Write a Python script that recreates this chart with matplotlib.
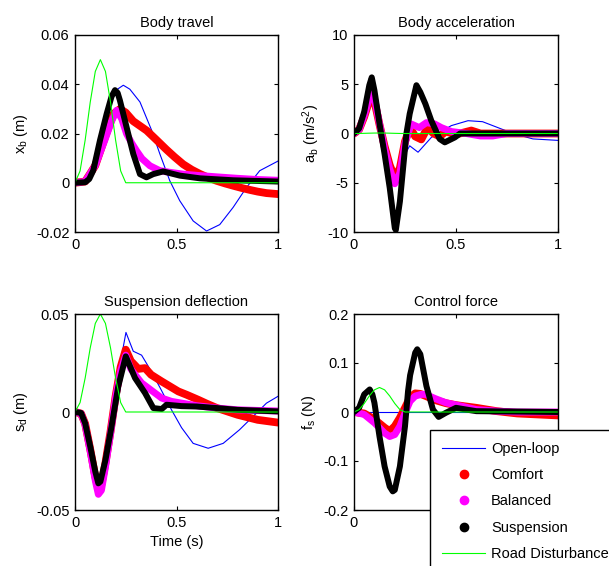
import matplotlib
matplotlib.use('Agg')
import matplotlib.pyplot as plt
from matplotlib.lines import Line2D

plt.rcParams['font.family'] = ['Liberation Sans', 'DejaVu Sans']
plt.rcParams['mathtext.fontset'] = 'custom'
plt.rcParams['mathtext.rm'] = 'Liberation Sans'
plt.rcParams['mathtext.it'] = 'Liberation Sans:italic'
plt.rcParams['axes.unicode_minus'] = False

# 路面扰动 (same in every panel)
t_road = [0, 0.025, 0.05, 0.075, 0.1, 0.125, 0.15, 0.175, 0.2, 0.225, 0.25, 1.0]
road = [0, 0.0048, 0.0173, 0.0327, 0.0452, 0.05, 0.0452, 0.0327, 0.0173, 0.0048, 0, 0]

# Body travel
t_xb_open = [0, 0.05, 0.1, 0.15, 0.19, 0.213, 0.238, 0.27, 0.32, 0.378, 0.418, 0.467, 0.516,
             0.582, 0.648, 0.713, 0.779, 0.844, 0.91, 1.0]
xb_open = [0, 0.001, 0.01, 0.026, 0.036, 0.0382, 0.0396, 0.038, 0.0328, 0.0212, 0.0117, 0.0008,
           -0.0073, -0.0155, -0.0196, -0.017, -0.01, -0.002, 0.0049, 0.0088]
t_xb_comf = [0, 0.05, 0.1, 0.15, 0.19, 0.222, 0.25, 0.287, 0.353, 0.4, 0.45, 0.49, 0.533, 0.575,
             0.615, 0.656, 0.697, 0.74, 0.779, 0.82, 0.861, 0.9, 0.943, 1.0]
xb_comf = [0, 0.0005, 0.007, 0.019, 0.028, 0.030, 0.0285, 0.025, 0.0212, 0.0175, 0.0135, 0.0105,
           0.0075, 0.0053, 0.0036, 0.0021, 0.0008, -0.0003, -0.0012, -0.0021, -0.0029, -0.0036,
           -0.0042, -0.0046]
t_xb_bal = [0, 0.05, 0.1, 0.15, 0.18, 0.205, 0.23, 0.254, 0.28, 0.303, 0.33, 0.369, 0.418, 0.47,
            0.533, 0.6, 0.697, 0.8, 0.9, 1.0]
xb_bal = [0, 0.0005, 0.007, 0.018, 0.025, 0.0294, 0.026, 0.0199, 0.016, 0.013, 0.0098, 0.0069,
          0.0049, 0.0042, 0.0035, 0.003, 0.0024, 0.0018, 0.0013, 0.001]
t_xb_susp = [0, 0.05, 0.07, 0.09, 0.123, 0.156, 0.18, 0.197, 0.21, 0.221, 0.254, 0.287, 0.32,
             0.352, 0.385, 0.434, 0.516, 0.615, 0.78, 1.0]
xb_susp = [0, 0.0002, 0.0015, 0.005, 0.0172, 0.028, 0.035, 0.0376, 0.0365, 0.0335, 0.0226,
           0.0117, 0.0035, 0.0022, 0.0035, 0.0046, 0.0029, 0.0018, 0.001, 0.0005]

# Body acceleration
t_ab_open = [0, 0.04, 0.085, 0.14, 0.2, 0.24, 0.273, 0.314, 0.379, 0.477, 0.559, 0.63, 0.68,
             0.78, 0.877, 1.0]
ab_open = [0, 1.5, 4.3, -1.0, -5.0, -2.5, -1.25, -1.9, -0.4, 0.8, 1.3, 1.2, 0.8, 0, -0.55, -0.7]
t_ab_comf = [0, 0.025, 0.05, 0.085, 0.1, 0.125, 0.15, 0.175, 0.2, 0.225, 0.25, 0.275, 0.3, 0.33,
             0.36, 0.39, 0.42, 0.45, 0.5, 0.575, 0.62, 0.7, 1.0]
ab_comf = [0, 0.4, 1.7, 4.0, 3.3, 0.9, -1.3, -3.2, -4.5, -3.5, -0.8, 0.6, -0.3, -0.6, 0.6, 0.0,
           -0.3, 0.2, -0.1, 0.3, 0.0, 0, 0]
t_ab_bal = [0, 0.025, 0.05, 0.085, 0.1, 0.125, 0.15, 0.175, 0.2, 0.225, 0.25, 0.28, 0.32, 0.355,
            0.395, 0.428, 0.477, 0.55, 0.62, 0.68, 0.75, 0.8, 1.0]
ab_bal = [0, 0.4, 1.8, 4.3, 3.6, 1.0, -1.5, -3.6, -5.1, -4.0, -1.0, 0.97, 0.6, 1.1, 0.97, 0.6,
          0.2, 0, -0.25, -0.25, 0, 0, 0]
t_ab_susp = [0, 0.025, 0.05, 0.075, 0.087, 0.1, 0.125, 0.15, 0.175, 0.2, 0.205, 0.225, 0.257,
             0.273, 0.306, 0.325, 0.35, 0.379, 0.42, 0.445, 0.494, 0.52, 1.0]
ab_susp = [0, 0.5, 2.2, 4.9, 5.7, 4.4, 1.0, -2.1, -5.5, -9.6, -9.8, -6.9, 0.0, 2.0, 4.9, 4.2,
           3.0, 1.3, -0.56, -0.9, -0.4, 0, 0]

# Suspension deflection
t_sd_open = [0, 0.05, 0.1, 0.115, 0.15, 0.2, 0.225, 0.251, 0.287, 0.328, 0.361, 0.419, 0.476,
             0.525, 0.582, 0.656, 0.73, 0.81, 0.877, 0.943, 1.0]
sd_open = [0, -0.006, -0.03, -0.035, -0.024, 0.009, 0.026, 0.0406, 0.031, 0.029, 0.0233, 0.0124,
           0.001, -0.008, -0.016, -0.0185, -0.016, -0.0091, -0.0023, 0.0045, 0.008]
t_sd_comf = [0, 0.03, 0.05, 0.075, 0.1, 0.115, 0.13, 0.15, 0.175, 0.2, 0.225, 0.25, 0.275, 0.312,
             0.345, 0.375, 0.427, 0.509, 0.55, 0.608, 0.65, 0.7, 0.8, 0.9, 1.0]
sd_comf = [0, -0.0008, -0.006, -0.019, -0.033, -0.039, -0.037, -0.026, -0.010, 0.008, 0.023,
           0.0318, 0.026, 0.022, 0.0224, 0.019, 0.0156, 0.0105, 0.0088, 0.0062, 0.0042, 0.002,
           -0.0014, -0.004, -0.0054]
t_sd_bal = [0, 0.03, 0.05, 0.075, 0.1, 0.115, 0.13, 0.15, 0.175, 0.2, 0.225, 0.25, 0.275, 0.3,
            0.328, 0.427, 0.476, 0.6, 0.7, 0.8, 1.0]
sd_bal = [0, -0.0008, -0.0065, -0.02, -0.035, -0.042, -0.040, -0.028, -0.011, 0.0075, 0.021,
          0.029, 0.022, 0.0185, 0.0148, 0.0071, 0.0054, 0.0032, 0.002, 0.0011, 0.0005]
t_sd_susp = [0, 0.03, 0.05, 0.075, 0.1, 0.115, 0.125, 0.15, 0.18, 0.213, 0.25, 0.296, 0.345,
             0.386, 0.427, 0.451, 0.525, 0.6, 0.7, 0.8, 1.0]
sd_susp = [0, -0.0005, -0.0057, -0.0176, -0.0304, -0.0364, -0.0355, -0.0245, -0.0074, 0.013,
           0.0284, 0.0173, 0.0097, 0.002, 0.0015, 0.0037, 0.003, 0.0028, 0.002, 0.0011, 0.0003]

# Control force
t_fs_open = [0, 1.0]
fs_open = [0, 0]
t_fs_comf = [0, 0.05, 0.1, 0.15, 0.175, 0.2, 0.225, 0.25, 0.275, 0.3, 0.325, 0.35, 0.4, 0.45,
             0.5, 0.6, 0.7, 0.8, 0.9, 1.0]
fs_comf = [0, -0.003, -0.015, -0.032, -0.039, -0.029, -0.012, 0.0085, 0.03, 0.038, 0.037, 0.033,
           0.024, 0.018, 0.014, 0.0085, 0.0017, -0.003, -0.005, -0.007]
t_fs_bal = [0, 0.05, 0.1, 0.15, 0.175, 0.2, 0.225, 0.25, 0.275, 0.3, 0.33, 0.35, 0.4, 0.45, 0.526,
            0.6, 0.7, 0.8, 1.0]
fs_bal = [0, -0.005, -0.022, -0.043, -0.05, -0.046, -0.029, -0.002, 0.022, 0.0325, 0.036, 0.036,
          0.027, 0.019, 0.012, 0.005, 0.0017, 0, 0]
t_fs_susp = [0, 0.025, 0.05, 0.077, 0.09, 0.1, 0.125, 0.15, 0.175, 0.19, 0.2, 0.225, 0.25, 0.265,
             0.275, 0.3, 0.31, 0.325, 0.355, 0.387, 0.415, 0.45, 0.5, 0.55, 0.6, 1.0]
fs_susp = [0, 0.0085, 0.036, 0.046, 0.036, 0.019, -0.05, -0.111, -0.152, -0.162, -0.159, -0.111,
           -0.029, 0.043, 0.075, 0.121, 0.128, 0.118, 0.053, 0.005, -0.01, -0.0017, 0.0085, 0.005,
           0.0017, 0]

panels = [
    ('Body travel', r'x$_\mathregular{b}$ (m)', [-0.02, 0.06],
     [-0.02, 0, 0.02, 0.04, 0.06], ['-0.02', '0', '0.02', '0.04', '0.06'],
     (t_xb_open, xb_open), (t_xb_comf, xb_comf), (t_xb_bal, xb_bal), (t_xb_susp, xb_susp)),
    ('Body acceleration', r'a$_\mathregular{b}$ (m/s$^\mathregular{2}$)', [-10, 10],
     [-10, -5, 0, 5, 10], ['-10', '-5', '0', '5', '10'],
     (t_ab_open, ab_open), (t_ab_comf, ab_comf), (t_ab_bal, ab_bal), (t_ab_susp, ab_susp)),
    ('Suspension deflection', r's$_\mathregular{d}$ (m)', [-0.05, 0.05],
     [-0.05, 0, 0.05], ['-0.05', '0', '0.05'],
     (t_sd_open, sd_open), (t_sd_comf, sd_comf), (t_sd_bal, sd_bal), (t_sd_susp, sd_susp)),
    ('Control force', r'f$_\mathregular{s}$ (N)', [-0.2, 0.2],
     [-0.2, -0.1, 0, 0.1, 0.2], ['-0.2', '-0.1', '0', '0.1', '0.2'],
     (t_fs_open, fs_open), (t_fs_comf, fs_comf), (t_fs_bal, fs_bal), (t_fs_susp, fs_susp)),
]

W, H = 609, 566
fig = plt.figure(figsize=(W / 100, H / 100), dpi=100)
boxes = [(75, 35, 203, 197), (354, 35, 204, 197), (75, 314, 203, 196), (354, 314, 204, 196)]

fs = 10.5
for i, ((x0, y0, w, h), p) in enumerate(zip(boxes, panels)):
    title, ylab, ylim, yt, ytl, op, cf, bl, sp = p
    ax = fig.add_axes([x0 / W, 1 - (y0 + h) / H, w / W, h / H])
    ax.plot(op[0], op[1], color='#0000ff', lw=0.8)
    ax.plot(cf[0], cf[1], color='#ff0000', lw=5.6, solid_joinstyle='round', solid_capstyle='round')
    ax.plot(bl[0], bl[1], color='#ff00ff', lw=5.0, solid_joinstyle='round', solid_capstyle='round')
    ax.plot(sp[0], sp[1], color='black', lw=4.3, solid_joinstyle='round', solid_capstyle='round')
    ax.plot(t_road, road, color='#00ff00', lw=0.8)
    ax.set_xlim(0, 1)
    ax.set_ylim(ylim)
    ax.set_xticks([0, 0.5, 1])
    ax.set_xticklabels(['0', '0.5', '1'], fontsize=fs)
    ax.set_yticks(yt)
    ax.set_yticklabels(ytl, fontsize=fs)
    ax.tick_params(direction='in', length=3, width=0.8, top=True, right=True, pad=4)
    for s in ax.spines.values():
        s.set_linewidth(1.0)
    ax.set_title(title, fontsize=fs, pad=6)
    ax.set_ylabel(ylab, fontsize=fs)
    if i == 2:
        ax.set_xlabel('Time (s)', fontsize=fs)

handles = [
    Line2D([], [], color='#0000ff', lw=0.8),
    Line2D([], [], color='#ff0000', marker='o', ms=6, ls='none'),
    Line2D([], [], color='#ff00ff', marker='o', ms=6, ls='none'),
    Line2D([], [], color='black', marker='o', ms=6, ls='none'),
    Line2D([], [], color='#00ff00', lw=0.8),
]
labels = ['Open-loop', 'Comfort', 'Balanced', 'Suspension', 'Road Disturbance']
leg = fig.legend(handles, labels, loc='upper left', bbox_to_anchor=(430 / W, 1 - 430 / H),
                 fontsize=fs, frameon=True, fancybox=False, framealpha=1, edgecolor='black',
                 handlelength=3.0, labelspacing=0.85, borderpad=0.8, handletextpad=0.4,
                 borderaxespad=0)
leg.get_frame().set_linewidth(1.0)

fig.savefig('out.png', dpi=100)
